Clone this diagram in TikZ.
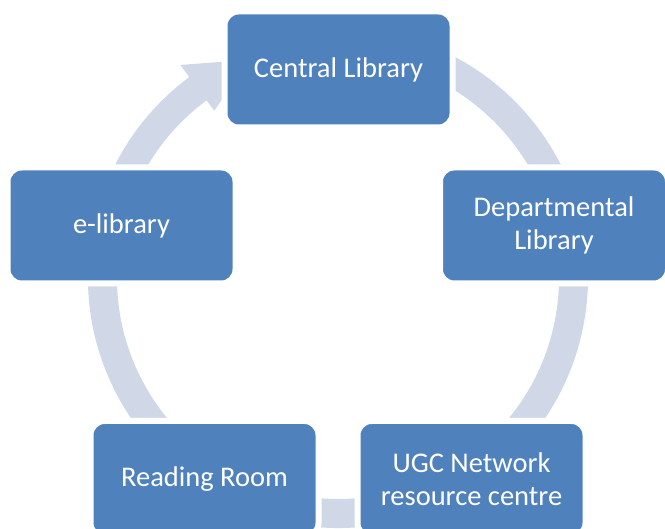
\documentclass[tikz,border=0pt]{standalone}
\usepackage{fontspec}
\setmainfont{Carlito}
\definecolor{boxblue}{RGB}{79,129,189}
\definecolor{ringcol}{RGB}{208,216,232}
\begin{document}
\begin{tikzpicture}[x=1pt,y=1pt,
  box/.style={rectangle, rounded corners=14pt, fill=boxblue, draw=white, line width=6pt,
    minimum width=228pt, minimum height=116pt, text=white, align=center,
    font=\fontsize{28.5}{33}\selectfont, inner sep=0pt}]
\useasboundingbox (0,0) rectangle (665,529);
\clip (0,0) rectangle (665,529);
\begin{scope}[shift={(338,251)}]
  \fill[ringcol] (80:250) arc[start angle=80, end angle=-233.5, radius=250]
    -- (126.5:265) -- (112:235.5) -- (126.5:208) -- (126.5:221)
    arc[start angle=-233.5, end angle=80, radius=221] -- cycle;
\end{scope}
\node[box] (central) at (338.5,459.5) {Central Library};
\node[box] (dept) at (554,303.5) {Departmental\\Library};
\node[box] (ugc) at (471.5,50) {UGC Network\\resource centre};
\node[box] (reading) at (204.5,50) {Reading Room};
\node[box] (elib) at (121.5,303.5) {e-library};
\end{tikzpicture}
\end{document}
